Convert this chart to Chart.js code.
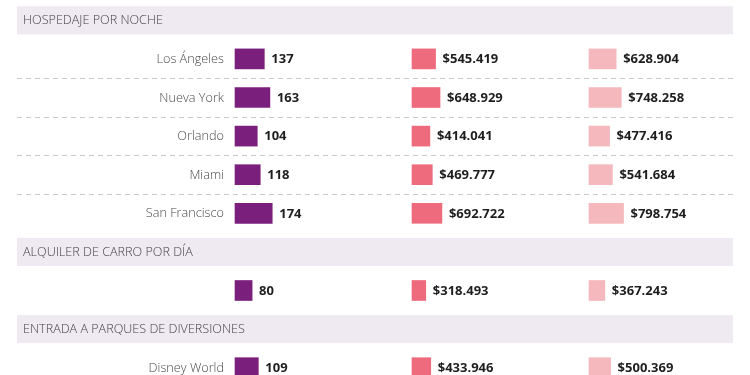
<!DOCTYPE html>
<html>
<head>
<meta charset="utf-8">
<script src="https://cdn.jsdelivr.net/npm/chart.js@4.4.0/dist/chart.umd.min.js"></script>
<style>
  html, body { margin: 0; padding: 0; background: #ffffff; overflow: hidden; }
  #wrap { width: 750px; height: 375px; overflow: hidden; position: relative; }
  #wrap canvas { position: absolute; left: 0; top: 0; }
</style>
</head>
<body>
<div id="wrap"><canvas id="c" width="750" height="387"></canvas></div>
<script>
// ---- Data ----
const sections = ["HOSPEDAJE POR NOCHE", "ALQUILER DE CARRO POR DÍA", "ENTRADA A PARQUES DE DIVERSIONES"];
const categories = ["Los Ángeles", "Nueva York", "Orlando", "Miami", "San Francisco", "", "Disney World"];
const categorySection = [0, 0, 0, 0, 0, 1, 2];
const usd = [137, 163, 104, 118, 174, 80, 109];
const copLow = [545419, 648929, 414041, 469777, 692722, 318493, 433946];
const copHigh = [628904, 748258, 477416, 541684, 798754, 367243, 500369];

// ---- Build rows (section header rows + item rows) ----
const rowLabels = [], rowType = [], rowItem = [];
let lastSec = -1;
categories.forEach((c, i) => {
  const s = categorySection[i];
  if (s !== lastSec) { rowLabels.push(sections[s]); rowType.push('header'); rowItem.push(-1); lastSec = s; }
  rowLabels.push(c); rowType.push('item'); rowItem.push(i);
});
const mapRows = arr => rowItem.map(k => k < 0 ? null : arr[k]);

// ---- Layout (column zero positions and px per unit) ----
const W = 750;
const col1 = { zero: 235, k: 0.214 };
const col2 = { zero: 412, k: 0.0000432 };
const col3 = { zero: 589, k: 0.0000432 };
const axisFor = col => ({ type: 'linear', display: false, min: -col.zero / col.k, max: (W - col.zero) / col.k });

const fmtCOP = v => '$' + v.toString().replace(/\B(?=(\d{3})+(?!\d))/g, '.');

const tablePlugin = {
  id: 'tablePlugin',
  beforeDatasetsDraw(chart) {
    const ctx = chart.ctx, y = chart.scales.y;
    ctx.save();
    rowLabels.forEach((lab, i) => {
      const py = y.getPixelForValue(i);
      if (rowType[i] === 'header') {
        ctx.fillStyle = '#efe9f1';
        ctx.fillRect(17, py - 14, 716, 28);
        ctx.fillStyle = '#444444';
        ctx.font = '300 12.6px "Open Sans"';
        ctx.textAlign = 'left'; ctx.textBaseline = 'middle';
        ctx.fillText(lab, 23, py + 0.5);
      } else {
        ctx.fillStyle = '#4a4a4a';
        ctx.font = '300 12.7px "Open Sans"';
        ctx.textAlign = 'right'; ctx.textBaseline = 'middle';
        if (lab) ctx.fillText(lab, 224, py + 0.5);
        // dashed separator below if next row is also an item
        if (i + 1 < rowLabels.length && rowType[i + 1] === 'item') {
          const ny = (py + y.getPixelForValue(i + 1)) / 2;
          ctx.strokeStyle = '#c8c8c8'; ctx.lineWidth = 1;
          ctx.setLineDash([5, 4]);
          ctx.beginPath(); ctx.moveTo(17, Math.round(ny) + 0.5); ctx.lineTo(733, Math.round(ny) + 0.5); ctx.stroke();
          ctx.setLineDash([]);
        }
      }
    });
    ctx.restore();
  },
  afterDatasetsDraw(chart) {
    const ctx = chart.ctx;
    ctx.save();
    ctx.fillStyle = '#1e1e1e';
    ctx.font = '700 13px "Open Sans"';
    ctx.textAlign = 'left'; ctx.textBaseline = 'middle';
    chart.data.datasets.forEach((ds, di) => {
      const meta = chart.getDatasetMeta(di);
      meta.data.forEach((el, j) => {
        const v = ds.data[j];
        if (v === null || v === undefined) return;
        const txt = di === 0 ? String(v) : fmtCOP(v);
        ctx.fillText(txt, el.x + 7, el.y + 0.5);
      });
    });
    ctx.restore();
  }
};

new Chart(document.getElementById('c'), {
  type: 'bar',
  data: {
    labels: rowLabels,
    datasets: [
      { label: 'USD', data: mapRows(usd), xAxisID: 'x1', backgroundColor: '#7b1f7d' },
      { label: 'COP mín.', data: mapRows(copLow), xAxisID: 'x2', backgroundColor: '#ee6b7e' },
      { label: 'COP máx.', data: mapRows(copHigh), xAxisID: 'x3', backgroundColor: '#f4b8bd' }
    ]
  },
  options: {
    indexAxis: 'y',
    responsive: false,
    animation: false,
    devicePixelRatio: 1,
    layout: { padding: { top: 1, bottom: 0, left: 0, right: 0 } },
    datasets: { bar: { grouped: false, barThickness: 20 } },
    scales: {
      y: { type: 'category', display: false, offset: true },
      x1: axisFor(col1),
      x2: axisFor(col2),
      x3: axisFor(col3)
    },
    plugins: { legend: { display: false }, tooltip: { enabled: false } }
  },
  plugins: [tablePlugin]
});
</script>
</body>
</html>
